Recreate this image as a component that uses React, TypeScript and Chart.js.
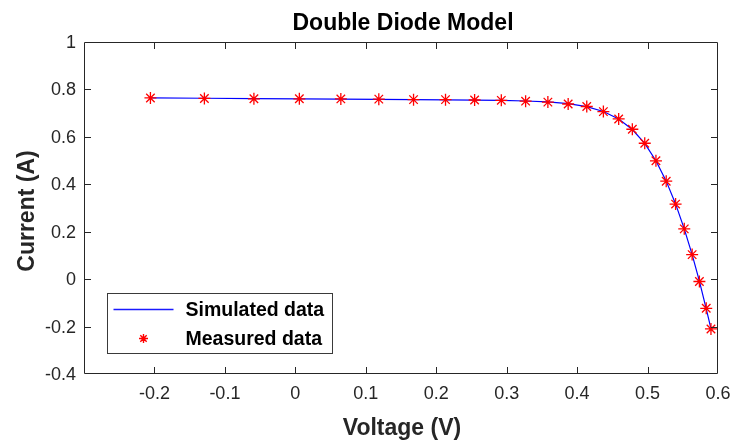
import React, { useEffect, useRef } from "react";
import { Chart, registerables } from "chart.js";

Chart.register(...registerables);

const voltage = [
  -0.2057, -0.1291, -0.0588, 0.0057, 0.0646, 0.1185, 0.1678, 0.2132, 0.2545,
  0.2924, 0.3269, 0.3585, 0.3873, 0.4137, 0.4373, 0.459, 0.4784, 0.496, 0.5119,
  0.5265, 0.5398, 0.5521, 0.5633, 0.5736, 0.5833, 0.59,
];
const measuredCurrent = [
  0.764, 0.762, 0.7605, 0.7605, 0.76, 0.759, 0.757, 0.757, 0.7555, 0.754,
  0.7505, 0.7465, 0.7385, 0.728, 0.7065, 0.6755, 0.632, 0.573, 0.499, 0.413,
  0.3165, 0.212, 0.1035, -0.01, -0.123, -0.21,
];
const simulatedCurrent = [
  0.764, 0.7627, 0.7614, 0.7602, 0.7591, 0.758, 0.7571, 0.7561, 0.755, 0.7536,
  0.7513, 0.7473, 0.7401, 0.7274, 0.707, 0.6753, 0.6309, 0.5721, 0.4994,
  0.4133, 0.3172, 0.2121, 0.1032, -0.0083, -0.1257, -0.2084,
];

const titleText = "Double Diode Model";
const xLabel = "Voltage (V)";
const yLabel = "Current (A)";
const legendLabels = ["Simulated data", "Measured data"];
const xRange = [-0.3, 0.6];
const yRange = [-0.4, 1];
const xStep = 0.1;
const yStep = 0.2;

const AXIS = "#262626";
const FONT = "'Liberation Sans', Arial, Helvetica, sans-serif";

function fmt(v: number): string {
  const r = Math.round(v * 10) / 10;
  return (Object.is(r, -0) ? 0 : r).toString();
}

function drawStar(ctx: CanvasRenderingContext2D, cx: number, cy: number, r: number) {
  ctx.beginPath();
  for (let k = 0; k < 4; k++) {
    const ang = (k * Math.PI) / 4;
    const dx = Math.cos(ang) * r;
    const dy = Math.sin(ang) * r;
    ctx.moveTo(cx - dx, cy - dy);
    ctx.lineTo(cx + dx, cy + dy);
  }
  ctx.stroke();
}

const framePlugin = {
  id: "matlabFrame",
  beforeDraw(chart: any) {
    const ctx = chart.ctx;
    ctx.save();
    ctx.fillStyle = "#ffffff";
    ctx.fillRect(0, 0, chart.width, chart.height);
    ctx.restore();
  },
  afterDraw(chart: any) {
    const ctx: CanvasRenderingContext2D = chart.ctx;
    const a = chart.chartArea;
    const xs = chart.scales.x;
    const ys = chart.scales.y;
    const L = Math.round(a.left) + 0.5;
    const R = Math.round(a.right) - 0.5;
    const T = Math.round(a.top) + 0.5;
    const B = Math.round(a.bottom) - 0.5;
    const tickLen = 6.5;

    ctx.save();
    ctx.strokeStyle = AXIS;
    ctx.lineWidth = 1;
    ctx.beginPath();
    ctx.rect(L, T, R - L, B - T);
    ctx.stroke();

    ctx.beginPath();
    xs.ticks.forEach((t: any) => {
      const px = Math.round(xs.getPixelForValue(t.value)) + 0.5;
      if (px <= L + 1 || px >= R - 1) return;
      ctx.moveTo(px, B);
      ctx.lineTo(px, B - tickLen);
      ctx.moveTo(px, T);
      ctx.lineTo(px, T + tickLen);
    });
    ys.ticks.forEach((t: any) => {
      const py = Math.round(ys.getPixelForValue(t.value)) + 0.5;
      if (py <= T + 1 || py >= B - 1) return;
      ctx.moveTo(L, py);
      ctx.lineTo(L + tickLen, py);
      ctx.moveTo(R, py);
      ctx.lineTo(R - tickLen, py);
    });
    ctx.stroke();

    ctx.fillStyle = AXIS;
    ctx.font = `18px ${FONT}`;
    ctx.textAlign = "center";
    ctx.textBaseline = "middle";
    xs.ticks.forEach((t: any) => {
      if (t.value < -0.25) return;
      const px = xs.getPixelForValue(t.value);
      ctx.fillText(fmt(t.value), px, a.bottom + 20);
    });
    ctx.textAlign = "right";
    ys.ticks.forEach((t: any) => {
      const py = ys.getPixelForValue(t.value);
      ctx.fillText(fmt(t.value), a.left - 8, py + 1);
    });

    ctx.fillStyle = "#000000";
    ctx.font = `bold 23px ${FONT}`;
    ctx.textAlign = "center";
    ctx.textBaseline = "alphabetic";
    ctx.fillText(titleText, (a.left + a.right) / 2 + 2, 30);

    ctx.fillStyle = AXIS;
    ctx.fillText(xLabel, (a.left + a.right) / 2 + 1, 435);
    ctx.save();
    ctx.translate(34, (a.top + a.bottom) / 2 + 3);
    ctx.rotate(-Math.PI / 2);
    ctx.fillText(yLabel, 0, 0);
    ctx.restore();

    const lx = a.left + 23.5;
    const ly = a.top + 251.5;
    const lw = 225;
    const lh = 60;
    ctx.fillStyle = "#ffffff";
    ctx.fillRect(lx, ly, lw, lh);
    ctx.strokeStyle = "#3a3a3a";
    ctx.lineWidth = 1;
    ctx.strokeRect(lx, ly, lw, lh);

    ctx.strokeStyle = "#1a1aff";
    ctx.lineWidth = 1.3;
    ctx.beginPath();
    ctx.moveTo(lx + 6, ly + 16);
    ctx.lineTo(lx + 66, ly + 16);
    ctx.stroke();

    ctx.strokeStyle = "#ff0000";
    ctx.lineWidth = 1.4;
    drawStar(ctx, lx + 36, ly + 45, 4.5);

    ctx.fillStyle = "#000000";
    ctx.font = `bold 19.5px ${FONT}`;
    ctx.textAlign = "left";
    ctx.textBaseline = "middle";
    ctx.fillText(legendLabels[0], lx + 78, ly + 17);
    ctx.fillText(legendLabels[1], lx + 78, ly + 46);
    ctx.restore();
  },
};

export default function App() {
  const canvasRef = useRef<HTMLCanvasElement | null>(null);

  useEffect(() => {
    const canvas = canvasRef.current;
    if (!canvas) return;
    const measured = voltage.map((v, i) => ({ x: v, y: measuredCurrent[i] }));
    const simulated = voltage.map((v, i) => ({ x: v, y: simulatedCurrent[i] }));

    const chart = new Chart(canvas, {
      type: "scatter",
      data: {
        datasets: [
          {
            label: legendLabels[1],
            data: measured,
            showLine: false,
            pointStyle: "star",
            pointRadius: 6,
            pointBorderWidth: 1.3,
            pointBorderColor: "#ff0000",
            pointBackgroundColor: "#ff0000",
            borderColor: "#ff0000",
            backgroundColor: "#ff0000",
          },
          {
            label: legendLabels[0],
            data: simulated,
            showLine: true,
            borderColor: "#0000ff",
            backgroundColor: "#0000ff",
            borderWidth: 1.2,
            pointRadius: 0,
            tension: 0,
          },
        ],
      },
      options: {
        animation: false,
        responsive: false,
        maintainAspectRatio: false,
        layout: { padding: { top: 42, right: 13, bottom: 0, left: 0 } },
        plugins: {
          legend: { display: false },
          title: { display: false },
          tooltip: { enabled: false },
        },
        scales: {
          x: {
            type: "linear",
            min: xRange[0],
            max: xRange[1],
            ticks: { stepSize: xStep, display: false },
            grid: { display: false },
            border: { display: false },
            afterFit: (s: any) => {
              s.height = 68;
            },
          },
          y: {
            type: "linear",
            min: yRange[0],
            max: yRange[1],
            ticks: { stepSize: yStep, display: false },
            grid: { display: false },
            border: { display: false },
            afterFit: (s: any) => {
              s.width = 84;
            },
          },
        },
      },
      plugins: [framePlugin],
    });
    return () => chart.destroy();
  }, []);

  return (
    <div style={{ position: "absolute", left: 0, top: 0, width: 731, height: 442 }}>
      <canvas ref={canvasRef} width={731} height={442} style={{ display: "block" }} />
    </div>
  );
}
